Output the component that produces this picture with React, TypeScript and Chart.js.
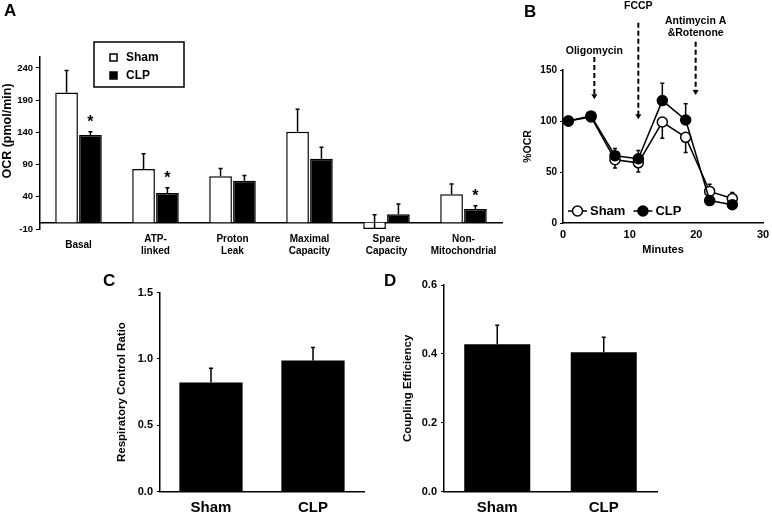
import { useEffect, useRef } from 'react';
import { Chart, registerables } from 'chart.js';

Chart.register(...registerables);

const FONT = "'Liberation Sans', Arial, Helvetica, sans-serif";
const CW = 772;
const CH = 515;

// ---------- Panel A : OCR parameters ----------
const categoriesA = [['Basal'], ['ATP-', 'linked'], ['Proton', 'Leak'], ['Maximal', 'Capacity'], ['Spare', 'Capacity'], ['Non-', 'Mitochondrial']];
const shamA = [202, 83, 72, 141, -10, 44];
const shamErrA = [34, 24, 12, 35, 22, 16];
const clpA = [136, 46, 65, 99, 13, 21];
const clpErrA = [5, 8, 8, 18, 16, 5];
const clpSigA = [true, true, false, false, false, true];
const yTicksA = [-10, 40, 90, 140, 190, 240];
const yTitleA = 'OCR (pmol/min)';

// ---------- Panel B : %OCR time course ----------
const minutesB = [0.8, 4.2, 7.8, 11.3, 14.9, 18.4, 22.0, 25.4];
const shamB = [100, 104, 62, 59, 99, 84, 31, 24];
const shamErrB = [2, 2, 8, 9, 16, 15, 7, 6];
const clpB = [100, 105, 66, 63, 120, 101, 22, 18];
const clpErrB = [2, 2, 7, 8, 17, 16, 3, 3];
const xTicksB = [0, 10, 20, 30];
const yTicksB = [0, 50, 100, 150];
const injectionsB = [
  { lines: ['Oligomycin'], x: 4.7, top: 162.7, tip: 121.3, label: 169 },
  { lines: ['FCCP'], x: 11.3, top: 196.4, tip: 101.7, label: 212.5 },
  { lines: ['Antimycin A', '&Rotenone'], x: 19.9, top: 177.7, tip: 125.5, label: 186.3 },
];

// ---------- Panels C / D ----------
const groupsCD = ['Sham', 'CLP'];
const rcrC = [0.822, 0.988];
const rcrErrC = [0.108, 0.098];
const yTicksC = [0, 0.5, 1.0, 1.5];
const ceD = [0.428, 0.405];
const ceErrD = [0.055, 0.043];
const yTicksD = [0, 0.2, 0.4, 0.6];

const fnt = (size: number, lineHeight = 1.2) => ({ family: FONT, weight: 'bold' as const, size, lineHeight });

function strokeErr(ctx: CanvasRenderingContext2D, x: number, y0: number, y1: number, cap: number) {
  ctx.beginPath();
  ctx.moveTo(x, y0);
  ctx.lineTo(x, y1);
  ctx.moveTo(x - cap, y1);
  ctx.lineTo(x + cap, y1);
  ctx.stroke();
}

function letterPlugin(letter: string, x: number, y: number) {
  return {
    id: 'letter' + letter,
    afterDraw(chart: any) {
      const ctx = chart.ctx;
      ctx.save();
      ctx.font = `bold 17px ${FONT}`;
      ctx.fillStyle = '#000';
      ctx.textAlign = 'left';
      ctx.textBaseline = 'alphabetic';
      ctx.fillText(letter, x, y);
      ctx.restore();
    },
  };
}

function yAxis(min: number, max: number, ticks: number[], title: string, opts: any) {
  return {
    type: 'linear',
    min,
    max,
    afterBuildTicks: (s: any) => {
      s.ticks = ticks.map((v) => ({ value: v }));
    },
    grid: { drawOnChartArea: false, drawTicks: true, tickLength: opts.tickLength, color: '#000', lineWidth: 1 },
    border: { display: true, color: '#000', width: 1.5 },
    ticks: {
      color: '#000',
      font: fnt(opts.tickSize),
      padding: opts.tickPad,
      callback: opts.fmt || ((v: any) => String(v)),
    },
    title: { display: !opts.noTitle, text: title, color: '#000', font: fnt(opts.titleSize), padding: 0 },
    afterFit: (s: any) => {
      s.width = opts.width;
      s.paddingTop = 0;
      s.paddingBottom = 0;
    },
  };
}

function configA(): any {
  return {
    type: 'bar',
    data: {
      labels: categoriesA,
      datasets: [
        { label: 'Sham', data: shamA, backgroundColor: '#fff', borderColor: '#000', borderWidth: 1.5 },
        { label: 'CLP', data: clpA, backgroundColor: '#000', borderColor: '#000', borderWidth: 1.5 },
      ],
    },
    options: {
      responsive: false,
      animation: false,
      devicePixelRatio: 1,
      layout: { padding: { left: 0, top: 57, right: CW - 502, bottom: CH - 229 } },
      plugins: { legend: { display: false }, tooltip: { enabled: false }, title: { display: false } },
      datasets: { bar: { categoryPercentage: 0.62, barPercentage: 0.95 } },
      scales: {
        x: {
          type: 'category',
          position: { y: 0 },
          offset: true,
          grid: { display: false, drawTicks: false },
          border: { display: true, color: '#000', width: 1.5 },
          ticks: { color: '#000', font: fnt(10), padding: 17, maxRotation: 0, autoSkip: false, crossAlign: 'center' },
          afterFit: (s: any) => {
            s.paddingLeft = 0;
            s.paddingRight = 0;
          },
        },
        y: yAxis(-10, 257, yTicksA, yTitleA, { tickLength: 4, tickSize: 9.5, tickPad: 3, titleSize: 12.5, width: 40, noTitle: true }),
      },
    },
    plugins: [
      {
        id: 'panelA',
        afterDatasetsDraw(chart: any) {
          const ctx = chart.ctx;
          const ys = chart.scales.y;
          ctx.save();
          ctx.strokeStyle = '#000';
          ctx.lineWidth = 1.5;
          const sets: [number, number[], number[]][] = [
            [0, shamA, shamErrA],
            [1, clpA, clpErrA],
          ];
          sets.forEach(([di, vals, errs]) => {
            chart.getDatasetMeta(di).data.forEach((el: any, i: number) => {
              strokeErr(ctx, el.x, ys.getPixelForValue(vals[i]), ys.getPixelForValue(vals[i] + errs[i]), 2);
            });
          });
          ctx.fillStyle = '#000';
          ctx.font = `bold 16px ${FONT}`;
          ctx.textAlign = 'center';
          ctx.textBaseline = 'alphabetic';
          chart.getDatasetMeta(1).data.forEach((el: any, i: number) => {
            if (clpSigA[i]) ctx.fillText('*', el.x, ys.getPixelForValue(clpA[i] + clpErrA[i]) - 5);
          });
          ctx.restore();
        },
        afterDraw(chart: any) {
          const ctx = chart.ctx;
          const ca = chart.chartArea;
          const bx = ca.left + 54;
          const by = ca.top - 15;
          ctx.save();
          // y-axis title (drawn slightly above axis centre, as in the figure)
          ctx.translate(8, ca.top + 74);
          ctx.rotate(-Math.PI / 2);
          ctx.font = `bold 12.5px ${FONT}`;
          ctx.fillStyle = '#000';
          ctx.textAlign = 'center';
          ctx.textBaseline = 'middle';
          ctx.fillText(yTitleA, 0, 0);
          ctx.restore();
          ctx.save();
          ctx.strokeStyle = '#000';
          ctx.lineWidth = 1.5;
          ctx.strokeRect(bx, by, 90, 45);
          ctx.font = `bold 12px ${FONT}`;
          ctx.textAlign = 'left';
          ctx.textBaseline = 'middle';
          chart.data.datasets.forEach((ds: any, i: number) => {
            const cy = by + 15.5 + i * 18;
            ctx.fillStyle = ds.backgroundColor;
            ctx.fillRect(bx + 16, cy - 3.5, 7, 7);
            ctx.strokeStyle = '#000';
            ctx.lineWidth = 1.5;
            ctx.strokeRect(bx + 16, cy - 3.5, 7, 7);
            ctx.fillStyle = '#000';
            ctx.fillText(ds.label, bx + 32, cy);
          });
          ctx.restore();
        },
      },
      letterPlugin('A', 4, 16),
    ],
  };
}

function configB(): any {
  const pts = (ys: number[]) => minutesB.map((x, i) => ({ x, y: ys[i] }));
  return {
    type: 'line',
    data: {
      datasets: [
        {
          label: 'Sham', data: pts(shamB), borderColor: '#000', borderWidth: 1.5, pointRadius: 5,
          pointBackgroundColor: '#fff', pointBorderColor: '#000', pointBorderWidth: 1.5, order: 1, clip: false,
        },
        {
          label: 'CLP', data: pts(clpB), borderColor: '#000', borderWidth: 1.5, pointRadius: 5,
          pointBackgroundColor: '#000', pointBorderColor: '#000', pointBorderWidth: 1.5, order: 0, clip: false,
        },
      ],
    },
    options: {
      responsive: false,
      animation: false,
      devicePixelRatio: 1,
      layout: { padding: { left: 522, top: 70, right: CW - 763, bottom: CH - 223 - 33.6 } },
      plugins: { legend: { display: false }, tooltip: { enabled: false }, title: { display: false } },
      elements: { line: { tension: 0 } },
      scales: {
        x: {
          type: 'linear',
          min: 0,
          max: 30,
          afterBuildTicks: (s: any) => {
            s.ticks = xTicksB.map((v) => ({ value: v }));
          },
          grid: { drawOnChartArea: false, drawTicks: false },
          border: { display: true, color: '#000', width: 1.5 },
          ticks: { color: '#000', font: fnt(11), padding: 5.5, maxRotation: 0 },
          title: { display: true, text: 'Minutes', color: '#000', font: fnt(11), padding: 0 },
          afterFit: (s: any) => {
            s.height = 33.6;
            s.paddingLeft = 0;
            s.paddingRight = 0;
          },
        },
        y: yAxis(0, 150, yTicksB, '%OCR', { tickLength: 3, tickSize: 10, tickPad: 3, titleSize: 10.5, width: 41 }),
      },
    },
    plugins: [
      {
        id: 'panelB',
        beforeDatasetsDraw(chart: any) {
          const ctx = chart.ctx;
          const xs = chart.scales.x;
          const ys = chart.scales.y;
          ctx.save();
          ctx.strokeStyle = '#000';
          ctx.lineWidth = 1.5;
          const series: [number[], number[], number[]][] = [
            [shamB, shamErrB, clpB],
            [clpB, clpErrB, shamB],
          ];
          series.forEach(([vals, errs, other], si) => {
            vals.forEach((v, i) => {
              const up = si === 1 ? v >= other[i] : v > other[i];
              const end = up ? v + errs[i] : v - errs[i];
              strokeErr(ctx, xs.getPixelForValue(minutesB[i]), ys.getPixelForValue(v), ys.getPixelForValue(end), 2);
            });
          });
          ctx.restore();
        },
        afterDraw(chart: any) {
          const ctx = chart.ctx;
          const xs = chart.scales.x;
          const ys = chart.scales.y;
          const ca = chart.chartArea;
          ctx.save();
          ctx.fillStyle = '#000';
          ctx.strokeStyle = '#000';
          injectionsB.forEach((a) => {
            const x = xs.getPixelForValue(a.x);
            const yt = ys.getPixelForValue(a.top);
            const yp = ys.getPixelForValue(a.tip);
            ctx.lineWidth = 2;
            ctx.setLineDash([5, 3]);
            ctx.beginPath();
            ctx.moveTo(x, yt);
            ctx.lineTo(x, yp - 4);
            ctx.stroke();
            ctx.setLineDash([]);
            ctx.beginPath();
            ctx.moveTo(x - 3, yp - 5);
            ctx.lineTo(x + 3, yp - 5);
            ctx.lineTo(x, yp);
            ctx.closePath();
            ctx.fill();
            ctx.font = `bold 10.5px ${FONT}`;
            ctx.textAlign = 'center';
            ctx.textBaseline = 'middle';
            const yl = ys.getPixelForValue(a.label);
            a.lines.forEach((t, k) => {
              ctx.fillText(t, x, yl - (a.lines.length - 1 - k) * 12);
            });
          });
          let x0 = ca.left + 5;
          const ly = ca.bottom - 12;
          ctx.font = `bold 13px ${FONT}`;
          ctx.textAlign = 'left';
          ctx.textBaseline = 'middle';
          [0, 1].forEach((di) => {
            const ds = chart.data.datasets[di];
            ctx.lineWidth = 1.5;
            ctx.beginPath();
            ctx.moveTo(x0, ly);
            ctx.lineTo(x0 + 19, ly);
            ctx.stroke();
            ctx.beginPath();
            ctx.arc(x0 + 9.5, ly, 5, 0, Math.PI * 2);
            ctx.fillStyle = ds.pointBackgroundColor;
            ctx.fill();
            ctx.stroke();
            ctx.fillStyle = '#000';
            ctx.fillText(ds.label, x0 + 22, ly);
            x0 = x0 + 22 + ctx.measureText(ds.label).width + 8;
          });
          ctx.restore();
        },
      },
      letterPlugin('B', 524, 17),
    ],
  };
}

function configBar(values: number[], errs: number[], ticks: number[], max: number, title: string, area: { l: number; r: number; t: number; b: number }, yWidth: number, letter: [string, number, number]): any {
  return {
    type: 'bar',
    data: {
      labels: groupsCD,
      datasets: [{ label: title, data: values, backgroundColor: '#000', borderColor: '#000', borderWidth: 0 }],
    },
    options: {
      responsive: false,
      animation: false,
      devicePixelRatio: 1,
      layout: { padding: { left: area.l - yWidth, top: area.t, right: CW - area.r, bottom: CH - area.b - 23.3 } },
      plugins: { legend: { display: false }, tooltip: { enabled: false }, title: { display: false } },
      datasets: { bar: { categoryPercentage: 1, barPercentage: 0.62 } },
      scales: {
        x: {
          type: 'category',
          offset: true,
          grid: { display: false, drawTicks: false },
          border: { display: true, color: '#000', width: 1.5 },
          ticks: { color: '#000', font: fnt(15), padding: 7, maxRotation: 0 },
          afterFit: (s: any) => {
            s.height = 23.3;
            s.paddingLeft = 0;
            s.paddingRight = 0;
          },
        },
        y: yAxis(0, max, ticks, title, {
          tickLength: 3, tickSize: 11, tickPad: 4, titleSize: 11.5, width: yWidth,
          fmt: (v: any) => Number(v).toFixed(1),
        }),
      },
    },
    plugins: [
      {
        id: 'errCD',
        afterDatasetsDraw(chart: any) {
          const ctx = chart.ctx;
          const ys = chart.scales.y;
          ctx.save();
          ctx.strokeStyle = '#000';
          ctx.lineWidth = 1.5;
          chart.getDatasetMeta(0).data.forEach((el: any, i: number) => {
            strokeErr(ctx, el.x, ys.getPixelForValue(values[i]), ys.getPixelForValue(values[i] + errs[i]), 2);
          });
          ctx.restore();
        },
      },
      letterPlugin(letter[0], letter[1], letter[2]),
    ],
  };
}

function Panel({ make }: { make: () => any }) {
  const ref = useRef<HTMLCanvasElement>(null);
  useEffect(() => {
    const chart = new Chart(ref.current as HTMLCanvasElement, make());
    return () => chart.destroy();
  }, [make]);
  return (
    <canvas
      ref={ref}
      width={CW}
      height={CH}
      style={{ position: 'absolute', left: 0, top: 0, width: CW, height: CH }}
    />
  );
}

const makeC = () => configBar(rcrC, rcrErrC, yTicksC, 1.5, 'Respiratory Control Ratio', { l: 160, r: 364, t: 292.5, b: 491.7 }, 45, ['C', 103, 286]);
const makeD = () => configBar(ceD, ceErrD, yTicksD, 0.6, 'Coupling Efficiency', { l: 444, r: 657, t: 285, b: 491.7 }, 43, ['D', 384, 286]);

export default function App() {
  return (
    <div style={{ position: 'fixed', left: 0, top: 0, width: CW, height: CH, background: '#fff', overflow: 'hidden' }}>
      <Panel make={configA} />
      <Panel make={configB} />
      <Panel make={makeC} />
      <Panel make={makeD} />
    </div>
  );
}
